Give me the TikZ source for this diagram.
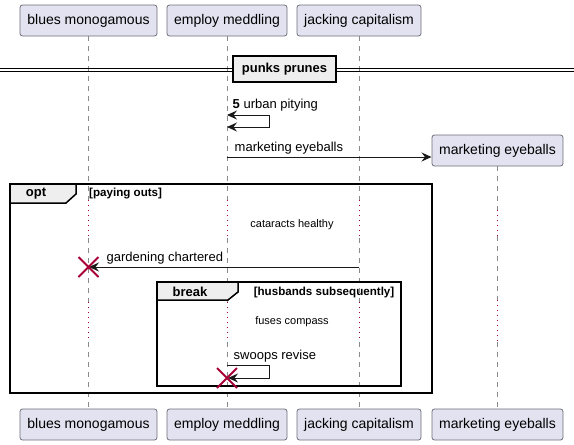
\documentclass[tikz,border=0pt]{standalone}
\usepackage{fontspec}
\setmainfont{Liberation Sans}
\usetikzlibrary{arrows.meta}
\definecolor{partfill}{HTML}{E2E2F0}
\definecolor{partdraw}{HTML}{6E6E7A}
\definecolor{lifegray}{HTML}{8A8A8A}
\definecolor{crim}{HTML}{A80036}
\definecolor{tabfill}{HTML}{EEEEEE}
\tikzset{
  part/.style={draw=partdraw, fill=partfill, rounded corners=2.5pt, line width=0.8pt,
    minimum height=31pt, inner sep=0pt, font=\fontsize{14}{16}\selectfont},
  lifeline/.style={draw=lifegray, line width=0.8pt, dash pattern=on 5pt off 5pt},
  delayline/.style={draw=crim, line width=0.9pt, dash pattern=on 1pt off 4pt},
  msg/.style={draw=black!90, line width=0.9pt, -{Stealth[length=10pt,width=9pt,inset=3.5pt]}},
  msgboth/.style={draw=black!90, line width=0.9pt, {Stealth[length=10pt,width=9pt,inset=3.5pt]}-{Stealth[length=10pt,width=9pt,inset=3.5pt]}},
  msglbl/.style={inner sep=0pt, anchor=west, font=\fontsize{13}{15}\selectfont},
  frame/.style={draw=black, line width=1.5pt},
  tab/.style={draw=black, line width=1.5pt, fill=tabfill},
  tablbl/.style={inner sep=0pt, font=\bfseries\fontsize{13}{15}\selectfont},
  guardlbl/.style={inner sep=0pt, font=\bfseries\fontsize{11.6}{13}\selectfont},
  delaylbl/.style={inner sep=0pt, font=\fontsize{11}{13}\selectfont},
  destroy/.style={draw=crim, line width=2pt},
}
\begin{document}
\begin{tikzpicture}[x=1pt,y=-1pt]
\useasboundingbox (0,0) rectangle (574,445);
% participants top
\node[part, minimum width=137pt] (bT) at (88.5,20.5) {blues monogamous};
\node[part, minimum width=120pt] (eT) at (227,20.5) {employ meddling};
\node[part, minimum width=124pt] (jT) at (359,20.5) {jacking capitalism};
\node[part, minimum width=131pt] (mT) at (497.5,150.5) {marketing eyeballs};
% participants bottom
\node[part, minimum width=137pt] (bB) at (88.5,424.5) {blues monogamous};
\node[part, minimum width=120pt] (eB) at (227,424.5) {employ meddling};
\node[part, minimum width=124pt] (jB) at (359,424.5) {jacking capitalism};
\node[part, minimum width=131pt] (mB) at (497.5,424.5) {marketing eyeballs};
% lifeline coordinates
\foreach \p/\x in {b/88.5,e/227,j/359}{
  \coordinate (\p d1) at (\x,200);
  \coordinate (\p d2) at (\x,238);
  \coordinate (\p d3) at (\x,302);
  \coordinate (\p d4) at (\x,342);
  \draw[lifeline] (\p T.south) -- (\p d1);
  \draw[delayline] (\p d1) -- (\p d2);
  \draw[lifeline] (\p d2) -- (\p d3);
  \draw[delayline] (\p d3) -- (\p d4);
  \draw[lifeline] (\p d4) -- (\p B.north);
}
\coordinate (md1) at (497.5,210);
\coordinate (md2) at (497.5,236);
\coordinate (md3) at (497.5,300);
\coordinate (md4) at (497.5,342);
\draw[lifeline] (mT.south) -- (md1);
\draw[delayline] (md1) -- (md2);
\draw[lifeline] (md2) -- (md3);
\draw[delayline] (md3) -- (md4);
\draw[lifeline] (md4) -- (mB.north);
% divider
\coordinate (dvL) at (0,68.5);
\coordinate (dvR) at (574,68.5);
\coordinate (dvL2) at (0,71.5);
\coordinate (dvR2) at (574,71.5);
\draw[line width=1.1pt] (dvL) -- (dvR);
\draw[line width=1.1pt] (dvL2) -- (dvR2);
\node[draw=black, line width=1.5pt, fill=tabfill, minimum width=103pt, minimum height=26pt, inner sep=0pt,
  font=\bfseries\fontsize{13}{15}\selectfont] (div) at (284.5,69) {punks prunes};
% self message urban pitying
\coordinate (u1) at (227,115);
\coordinate (u2) at (269,115);
\coordinate (u3) at (269,127);
\coordinate (u4) at (227,127);
\draw[msgboth] (u1) -- (u2) -- (u3) -- (u4);
\node[msglbl] (ulbl) at (232.5,105) {\textbf{5} urban pitying};
% marketing eyeballs message
\coordinate (me1) at (227,157);
\coordinate (me2) at (431.5,157);
\draw[msg] (me1) -- (me2);
\node[msglbl] (melbl) at (234.5,148) {marketing eyeballs};
% opt frame
\coordinate (o1) at (10,184);
\coordinate (o2) at (432,393);
\draw[frame] (o1) rectangle (o2);
\draw[tab] (10,184) -- (76,184) -- (76,194) -- (66,203) -- (10,203) -- cycle;
\node[tablbl] (optlbl) at (36,194) {opt};
\node[guardlbl, anchor=west] (optg) at (89,194) {[paying outs]};
\node[delaylbl] (cat) at (292,225) {cataracts healthy};
% gardening chartered
\coordinate (g1) at (359,267);
\coordinate (g2) at (89,267);
\draw[msg] (g1) -- (g2);
\node[msglbl] (glbl) at (106.5,258) {gardening chartered};
\draw[destroy] (78.5,257) -- (98.5,277) (78.5,277) -- (98.5,257);
% break frame
\coordinate (k1) at (157,282);
\coordinate (k2) at (401,386);
\draw[frame] (k1) rectangle (k2);
\draw[tab] (157,282) -- (238,282) -- (238,292) -- (228,300) -- (157,300) -- cycle;
\node[tablbl] (brlbl) at (190,292) {break};
\node[guardlbl, anchor=east] (brg) at (394.5,292) {[husbands subsequently]};
\node[delaylbl] (fus) at (292,322) {fuses compass};
% swoops revise
\coordinate (s1) at (227,365);
\coordinate (s2) at (269,365);
\coordinate (s3) at (269,378);
\coordinate (s4) at (228,378);
\draw[msg] (s1) -- (s2) -- (s3) -- (s4);
\node[msglbl] (slbl) at (233.5,356) {swoops revise};
\draw[destroy] (217,368) -- (237,388) (217,388) -- (237,368);
\end{tikzpicture}
\end{document}
